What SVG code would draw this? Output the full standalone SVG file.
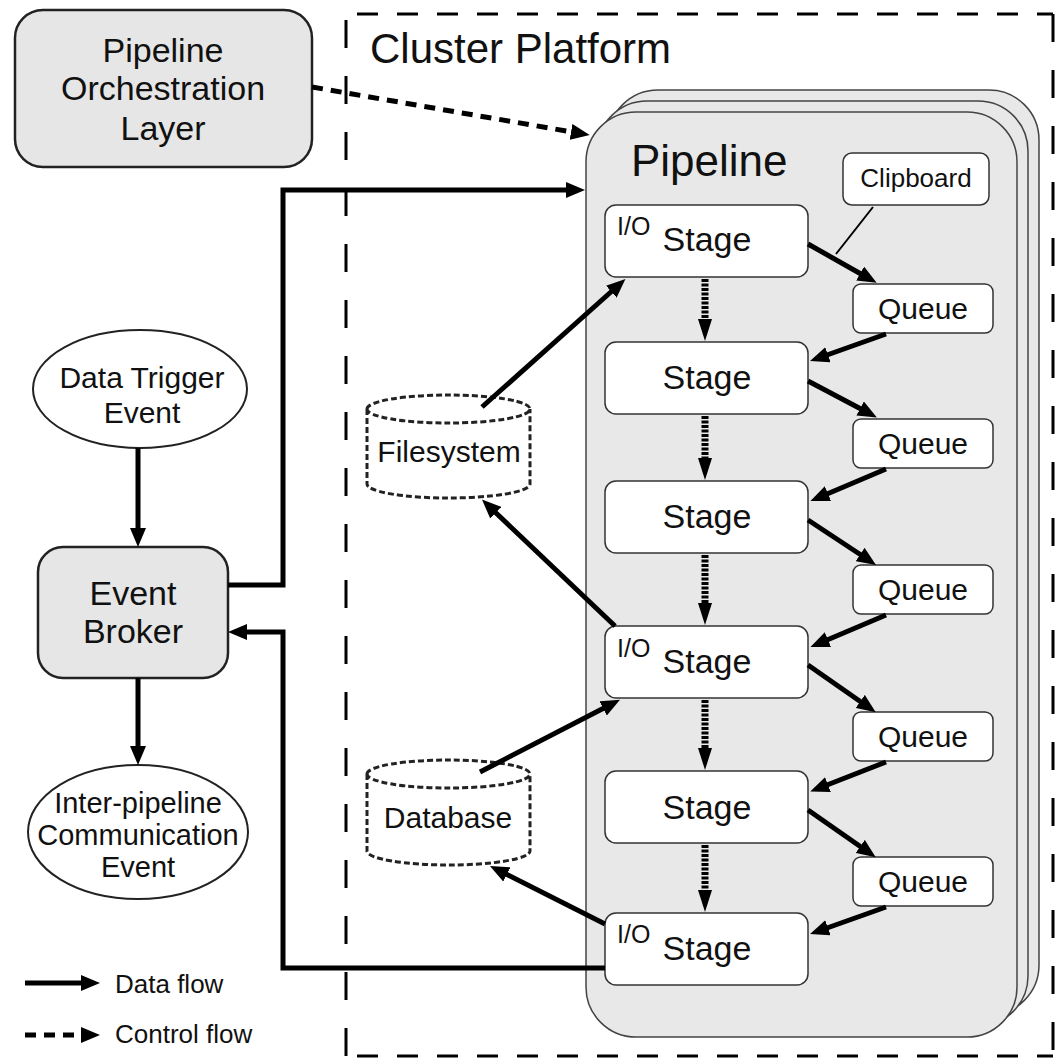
<svg xmlns="http://www.w3.org/2000/svg" width="1059" height="1060" viewBox="0 0 1059 1060">
<style>
text{font-family:"Liberation Sans",Arial,sans-serif;fill:#111}
.c{text-anchor:middle}
.gray{fill:#e6e6e6;stroke:#222;stroke-width:2.5}
.pipe{fill:#e8e8e8;stroke:#444;stroke-width:1.5}
.box{fill:#fff;stroke:#333;stroke-width:1.5}
.ell{fill:#fff;stroke:#222;stroke-width:2}
.cyl{fill:#fff;stroke:#222;stroke-width:3;stroke-dasharray:6 3}
.data{fill:none;stroke:#000;stroke-width:5;marker-end:url(#ah)}
.ctrl{fill:none;stroke:#000;stroke-width:5;stroke-dasharray:11 8;marker-end:url(#ah)}
.vert{fill:none;stroke:#000;stroke-width:7;stroke-dasharray:3 1.5;marker-end:url(#ch)}
.clust{fill:none;stroke:#000;stroke-width:3}
</style>
<defs>
<marker id="ah" markerUnits="userSpaceOnUse" markerWidth="20" markerHeight="16" refX="1" refY="8" orient="auto"><path d="M0,0 L19,8 L0,16 z" fill="#000"/></marker>
<marker id="ch" markerUnits="userSpaceOnUse" markerWidth="24" markerHeight="16" refX="1" refY="7" orient="auto"><path d="M0,0 L22,7 L0,14 z" fill="#000"/></marker>
</defs>
<rect width="1059" height="1060" fill="#fff"/>

<g id="cluster-platform">
<line class="clust" x1="357" y1="14" x2="1053" y2="14" stroke-dasharray="21 19"/>
<line class="clust" x1="357" y1="1056" x2="1053" y2="1056" stroke-dasharray="21 19"/>
<line class="clust" x1="346" y1="20" x2="346" y2="1056" stroke-dasharray="28 28"/>
<line class="clust" x1="1053" y1="14" x2="1053" y2="1056" stroke-dasharray="28 28"/>
<text x="370" y="63" font-size="42">Cluster Platform</text>
</g>

<g id="pipeline">
<rect class="pipe" x="608" y="90" width="431" height="925" rx="50"/>
<rect class="pipe" x="597" y="101" width="431" height="925" rx="50"/>
<rect class="pipe" x="586" y="112" width="431" height="925" rx="50"/>
<text x="631" y="176" font-size="44">Pipeline</text>
</g>

<g id="orchestration">
<rect class="gray" x="15" y="10" width="297" height="157" rx="28"/>
<text class="c" x="163" y="62" font-size="34">Pipeline</text>
<text class="c" x="163" y="100" font-size="34">Orchestration</text>
<text class="c" x="163" y="140" font-size="34">Layer</text>
</g>

<g id="data-trigger">
<ellipse class="ell" cx="140" cy="389" rx="107" ry="59"/>
<text class="c" x="142" y="388" font-size="30">Data Trigger</text>
<text class="c" x="142" y="423" font-size="30">Event</text>
</g>

<g id="event-broker">
<rect class="gray" x="38" y="547" width="190" height="131" rx="25"/>
<text class="c" x="133" y="605" font-size="34">Event</text>
<text class="c" x="133" y="643" font-size="34">Broker</text>
</g>

<g id="inter-pipeline">
<ellipse class="ell" cx="138" cy="832" rx="110" ry="67"/>
<text class="c" x="138" y="813" font-size="29">Inter-pipeline</text>
<text class="c" x="138" y="845" font-size="29">Communication</text>
<text class="c" x="138" y="877" font-size="29">Event</text>
</g>

<g id="filesystem">
<path class="cyl" d="M367,409 A81.5,14 0 0 1 530,409 A81.5,14 0 0 1 367,409 Z M367,409 V484 A81.5,14 0 0 0 530,484 V409"/>
<text class="c" x="449" y="462" font-size="30">Filesystem</text>
</g>

<g id="database">
<path class="cyl" d="M367,774 A81.5,14 0 0 1 530,774 A81.5,14 0 0 1 367,774 Z M367,774 V851 A81.5,14 0 0 0 530,851 V774"/>
<text class="c" x="448" y="828" font-size="30">Database</text>
</g>

<g id="clipboard">
<rect class="box" x="843" y="153" width="146" height="52" rx="9"/>
<text class="c" x="916" y="187" font-size="26">Clipboard</text>
</g>

<g id="stage1">
<rect class="box" x="605" y="205" width="203" height="72" rx="11"/>
<text x="617" y="235" font-size="25">I/O</text>
<text class="c" x="707" y="251" font-size="34">Stage</text>
</g>
<g id="stage2">
<rect class="box" x="605" y="342" width="203" height="72" rx="11"/>
<text class="c" x="707" y="389" font-size="34">Stage</text>
</g>
<g id="stage3">
<rect class="box" x="605" y="481" width="203" height="72" rx="11"/>
<text class="c" x="707" y="528" font-size="34">Stage</text>
</g>
<g id="stage4">
<rect class="box" x="605" y="626" width="203" height="72" rx="11"/>
<text x="617" y="657" font-size="25">I/O</text>
<text class="c" x="707" y="673" font-size="34">Stage</text>
</g>
<g id="stage5">
<rect class="box" x="605" y="771" width="203" height="72" rx="11"/>
<text class="c" x="707" y="819" font-size="34">Stage</text>
</g>
<g id="stage6">
<rect class="box" x="605" y="913" width="203" height="72" rx="11"/>
<text x="617" y="943" font-size="25">I/O</text>
<text class="c" x="707" y="960" font-size="34">Stage</text>
</g>

<g id="queue1"><rect class="box" x="853" y="284" width="140" height="49" rx="8"/><text class="c" x="923" y="319" font-size="30">Queue</text></g>
<g id="queue2"><rect class="box" x="853" y="419" width="140" height="49" rx="8"/><text class="c" x="923" y="454" font-size="30">Queue</text></g>
<g id="queue3"><rect class="box" x="853" y="565" width="140" height="49" rx="8"/><text class="c" x="923" y="600" font-size="30">Queue</text></g>
<g id="queue4"><rect class="box" x="853" y="712" width="140" height="49" rx="8"/><text class="c" x="923" y="747" font-size="30">Queue</text></g>
<g id="queue5"><rect class="box" x="853" y="857" width="140" height="49" rx="8"/><text class="c" x="923" y="892" font-size="30">Queue</text></g>

<g id="connectors">
<path class="ctrl" d="M312,87 L572,132"/>
<path class="data" d="M138,448 V529"/>
<path class="data" d="M138,678 V747"/>
<path class="data" stroke-width="6" d="M228,585 H283 V190 H567"/>
<path class="data" stroke-width="4" d="M605,968 H283 V632 H246"/>
<path class="data" stroke-width="4.5" d="M482,407 L612,291"/>
<path class="data" stroke-width="4.5" d="M615,626 L495,512"/>
<path class="data" stroke-width="4.5" d="M480,772 L604,708"/>
<path class="data" stroke-width="4.5" d="M605,924 L506,874"/>
<path fill="none" stroke="#000" stroke-width="2" d="M873,207 L836,254"/>
<path class="data" d="M808,244 L861,274"/>
<path class="data" d="M808,381 L861,409"/>
<path class="data" d="M808,520 L861,555"/>
<path class="data" d="M808,665 L861,702"/>
<path class="data" d="M808,810 L861,847"/>
<path class="data" d="M886,334 L827,355"/>
<path class="data" d="M886,469 L827,494"/>
<path class="data" d="M886,615 L827,640"/>
<path class="data" d="M886,762 L827,785"/>
<path class="data" d="M886,907 L827,928"/>
<path class="vert" d="M705,279 V320"/>
<path class="vert" d="M705,416 V459"/>
<path class="vert" d="M705,555 V604"/>
<path class="vert" d="M705,700 V749"/>
<path class="vert" d="M705,845 V891"/>
</g>

<g id="legend">
<path class="data" d="M25,983 H82"/>
<text x="115" y="993" font-size="26">Data flow</text>
<path class="ctrl" stroke-width="6" stroke-dasharray="10 8" d="M25,1035 H82"/>
<text x="115" y="1043" font-size="26">Control flow</text>
</g>
</svg>
